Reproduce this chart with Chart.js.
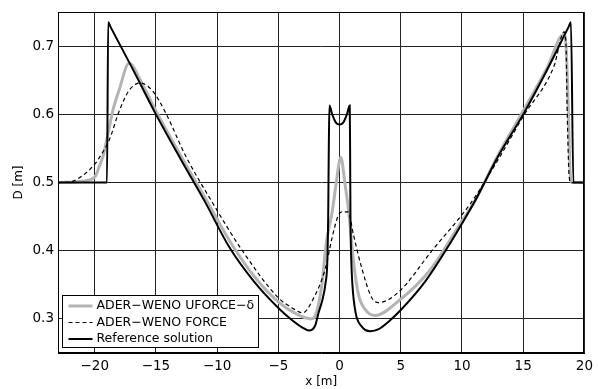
<!DOCTYPE html>
<html>
<head>
  <title>D [m] vs x [m]</title>
  <script src="https://cdn.jsdelivr.net/npm/chart.js"></script>
  <style>
    body {
      margin: 0;
      padding: 0;
      background-color: #fff;
    }
    .chart-container {
      width: 598px;
      height: 389px;
    }
  </style>
</head>
<body>
  <div class="chart-container">
    <canvas id="depthChart"></canvas>
  </div>
  <script>
    // tick labels
    const xTicks = [-20, -15, -10, -5, 0, 5, 10, 15, 20];
    const yTicks = [0.3, 0.4, 0.5, 0.6, 0.7];

    const seriesNames = ['ADER\u2212WENO UFORCE\u2212\u03b4', 'ADER\u2212WENO FORCE', 'Reference solution'];

    // ADER-WENO UFORCE-delta (grey)
    const uforceX = [-23, -21, -20, -19.6, -19.3, -19.05, -18.5, -18, -17.2, -16, -15, -13, -11, -9, -7, -5, -3.5, -2.3,
      -1.97, -1.44, -1.1, -0.6, -0.3, 0.1, 0.46, 0.73, 1.0, 1.14, 1.54, 2.09, 2.9, 4.8, 7.5, 9.94, 11, 13, 15, 17,
      18.3, 18.5, 18.7, 18.85, 19.0, 20];
    const uforceY = [0.5, 0.502, 0.508, 0.525, 0.54, 0.56, 0.607, 0.636, 0.675, 0.64, 0.605, 0.54, 0.478, 0.415, 0.363, 0.325, 0.307, 0.30,
      0.305, 0.351, 0.41, 0.457, 0.496, 0.537, 0.496, 0.46, 0.41, 0.384, 0.336, 0.314, 0.305, 0.326, 0.374, 0.442, 0.471, 0.542, 0.605, 0.67,
      0.717, 0.70, 0.60, 0.51, 0.5, 0.5];

    // ADER-WENO FORCE (dashed)
    const forceX = [-23, -22, -21, -20, -19.5, -18.8, -18, -17.2, -16.3, -15.3, -14.2, -12.6, -10.4, -7.9, -5, -3.87, -3.0,
      -2.25, -1.16, -0.6, -0.1, 0.2, 0.7, 1.14, 1.82, 2.63, 3.17, 4.8, 7.5, 10.76, 13, 15, 17.5,
      18.35, 18.5, 18.6, 18.75, 18.9, 20];
    const forceY = [0.5, 0.501, 0.51, 0.527, 0.54, 0.563, 0.605, 0.635, 0.646, 0.635, 0.602, 0.54, 0.471, 0.399, 0.331, 0.316, 0.309,
      0.326, 0.374, 0.42, 0.452, 0.457, 0.457, 0.423, 0.374, 0.331, 0.324, 0.339, 0.399, 0.471, 0.535, 0.597, 0.67,
      0.721, 0.70, 0.60, 0.51, 0.5, 0.5];

    // Reference solution (black)
    const refX = [-23, -19.0, -18.9, -18.7, -17, -15, -13, -11, -9, -7, -5, -4, -3, -2.5, -2.0, -1.7, -1.4, -1.15, -1.0, -0.93, -0.88,
      -0.83, -0.6, -0.3, 0, 0.3, 0.6, 0.83, 0.86, 0.89, 0.95, 1.05, 1.3, 1.8, 2.5, 3.2, 4, 5, 7, 9, 11, 13, 15, 17,
      18.7, 18.9, 19.1, 20];
    const refY = [0.5, 0.5, 0.735, 0.728, 0.67, 0.60, 0.535, 0.472, 0.405, 0.355, 0.316, 0.300, 0.287, 0.283, 0.29, 0.31, 0.328, 0.352, 0.385, 0.45, 0.55,
      0.613, 0.600, 0.588, 0.585, 0.588, 0.600, 0.613, 0.55, 0.45, 0.39, 0.35, 0.31, 0.289, 0.282, 0.285, 0.296, 0.313, 0.355, 0.41, 0.471, 0.54, 0.60, 0.667,
      0.728, 0.735, 0.5, 0.5];

    const toPoints = (xs, ys) => xs.map((x, i) => ({ x: x, y: ys[i] }));
    const fontFamily = '"DejaVu Sans", Verdana, sans-serif';
    const minus = v => String(v).replace('-', '\u2212');

    // box round the plot and the legend inside it
    const frameLegend = {
      id: 'frameLegend',
      afterDatasetsDraw(chart) {
        const ctx = chart.ctx;
        const a = chart.chartArea;
        ctx.save();
        ctx.strokeStyle = '#000';
        ctx.lineWidth = 1;
        ctx.setLineDash([]);
        ctx.strokeRect(Math.round(a.left) + 0.5, Math.round(a.top) + 0.5,
          Math.round(a.right - a.left) - 1, Math.round(a.bottom - a.top) - 1);

        const bx = Math.round(a.left) + 4.5, by = Math.round(a.bottom) - 57.5, bw = 196, bh = 52;
        ctx.fillStyle = '#fff';
        ctx.fillRect(bx, by, bw, bh);
        ctx.strokeRect(bx, by, bw, bh);

        ctx.font = '12.5px ' + fontFamily;
        ctx.textBaseline = 'middle';
        ctx.textAlign = 'left';
        chart.data.datasets.forEach((ds, i) => {
          const y = by + 10.5 + i * 16.5;
          ctx.beginPath();
          ctx.strokeStyle = ds.borderColor;
          ctx.lineWidth = ds.borderWidth;
          ctx.setLineDash(ds.borderDash || []);
          ctx.moveTo(bx + 6, y);
          ctx.lineTo(bx + 30, y);
          ctx.stroke();
          ctx.setLineDash([]);
          ctx.fillStyle = '#000';
          ctx.fillText(ds.label, bx + 34, y);
        });
        ctx.restore();
      }
    };

    const ctx = document.getElementById('depthChart').getContext('2d');
    new Chart(ctx, {
      type: 'line',
      data: {
        datasets: [{
          label: seriesNames[0],
          data: toPoints(uforceX, uforceY),
          borderColor: '#b4b4b4',
          borderWidth: 3,
          order: 3
        }, {
          label: seriesNames[1],
          data: toPoints(forceX, forceY),
          borderColor: '#000',
          borderWidth: 1.2,
          borderDash: [4, 3],
          order: 2
        }, {
          label: seriesNames[2],
          data: toPoints(refX, refY),
          borderColor: '#000',
          borderWidth: 2,
          order: 1
        }]
      },
      options: {
        responsive: true,
        maintainAspectRatio: false,
        animation: false,
        layout: {
          padding: { top: 8, right: 11, bottom: 0, left: 0 }
        },
        elements: {
          point: { radius: 0 },
          line: { cubicInterpolationMode: 'monotone', fill: false }
        },
        scales: {
          x: {
            type: 'linear',
            min: -23,
            max: 20,
            afterBuildTicks: scale => { scale.ticks = xTicks.map(v => ({ value: v })); },
            afterFit: scale => { scale.height = 36; },
            grid: { color: '#222', lineWidth: 1, drawTicks: false },
            border: { color: '#000' },
            ticks: {
              color: '#000',
              padding: 5,
              maxRotation: 0,
              font: { family: fontFamily, size: 13.5 },
              callback: v => minus(v)
            },
            title: {
              display: true,
              text: 'x [m]',
              color: '#000',
              padding: { top: 0, bottom: 0 },
              font: { family: fontFamily, size: 12 }
            }
          },
          y: {
            type: 'linear',
            min: 0.25,
            max: 0.75,
            afterBuildTicks: scale => { scale.ticks = yTicks.map(v => ({ value: v })); },
            afterFit: scale => { scale.width = 58; },
            grid: { color: '#222', lineWidth: 1, drawTicks: false },
            border: { color: '#000' },
            ticks: {
              color: '#000',
              padding: 4,
              font: { family: fontFamily, size: 13.5 },
              callback: v => v.toFixed(1)
            },
            title: {
              display: true,
              text: 'D [m]',
              color: '#000',
              padding: { top: 12, bottom: 0 },
              font: { family: fontFamily, size: 12 }
            }
          }
        },
        plugins: {
          legend: { display: false },
          tooltip: { enabled: false }
        }
      },
      plugins: [frameLegend]
    });
  </script>
</body>
</html>
